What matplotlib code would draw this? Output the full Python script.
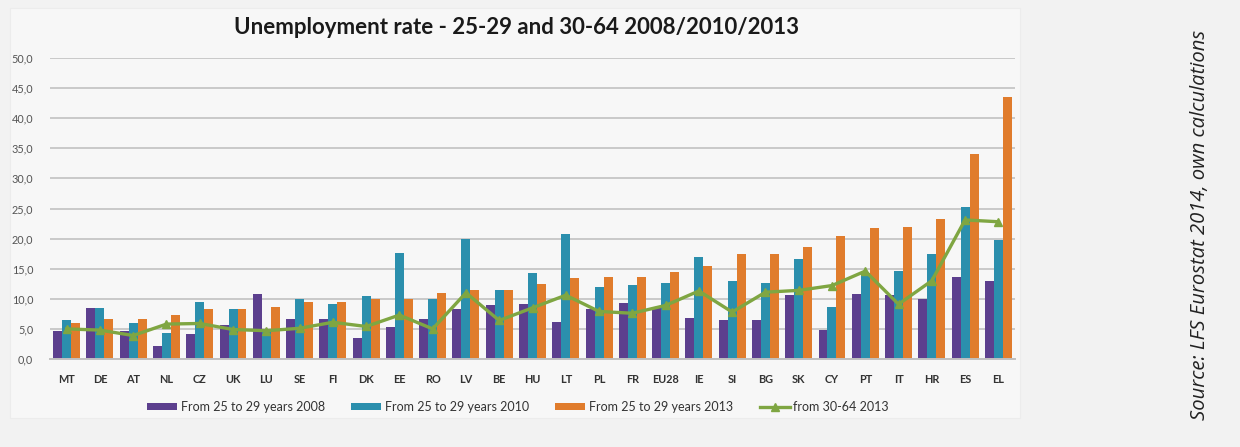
import matplotlib
matplotlib.use("Agg")
import matplotlib.pyplot as plt
import numpy as np
from matplotlib.patches import Rectangle
from matplotlib.ticker import FuncFormatter, MultipleLocator

plt.rcParams["font.family"] = ["Lato", "DejaVu Sans"]

countries = ["MT", "DE", "AT", "NL", "CZ", "UK", "LU", "SE", "FI", "DK", "EE", "RO",
             "LV", "BE", "HU", "LT", "PL", "FR", "EU28", "IE", "SI", "BG", "SK", "CY",
             "PT", "IT", "HR", "ES", "EL"]
y2008 = [4.6, 8.5, 4.7, 2.2, 4.1, 5.7, 10.8, 6.7, 6.7, 3.5, 5.3, 6.7, 8.3, 9.0, 9.2,
         6.1, 8.3, 9.3, 8.5, 6.8, 6.5, 6.4, 10.6, 4.9, 10.8, 10.7, 10.0, 13.6, 13.0]
y2010 = [6.4, 8.5, 6.0, 4.3, 9.4, 8.3, 4.6, 10.0, 9.2, 10.5, 17.6, 9.9, 20.0, 11.5, 14.3,
         20.8, 12.0, 12.3, 12.6, 17.0, 13.0, 12.6, 16.6, 8.7, 14.3, 14.6, 17.5, 25.2, 19.7]
y2013 = [6.0, 6.7, 6.7, 7.3, 8.3, 8.3, 8.6, 9.4, 9.4, 10.0, 10.0, 11.0, 11.5, 11.5, 12.4,
         13.4, 13.6, 13.7, 14.4, 15.4, 17.5, 17.5, 18.6, 20.5, 21.8, 22.0, 23.3, 34.0, 43.5]
older2013 = [5.0, 4.8, 3.9, 5.8, 5.9, 4.9, 4.7, 5.1, 6.1, 5.4, 7.3, 5.0, 11.0, 6.4, 8.5,
             10.6, 7.9, 7.6, 8.9, 11.3, 7.8, 11.1, 11.4, 12.2, 14.6, 9.1, 13.0, 23.1, 22.8]

PURPLE = "#5c3f8e"
TEAL = "#2b8fad"
ORANGE = "#e07c2c"
GREEN = "#7fa642"

fig = plt.figure(figsize=(12.4, 4.47), dpi=100)
fig.patch.set_facecolor("#f2f2f2")

# lighter excel-style chart panel, kept behind everything
fig.add_artist(Rectangle((10 / 1240, 1 - 418 / 447), 1010 / 1240, 410 / 447,
                         transform=fig.transFigure, facecolor="#f7f7f7",
                         edgecolor="#ececec", lw=0.8, zorder=-10))

ax = fig.add_axes([50 / 1240, 1 - 359 / 447, 965 / 1240, 301 / 447])
ax.set_facecolor("none")
ax.set_zorder(1)

x = np.arange(len(countries))
w = 0.27
b1 = ax.bar(x - w, y2008, w, color=PURPLE, label="From 25 to 29 years 2008", zorder=2)
b2 = ax.bar(x, y2010, w, color=TEAL, label="From 25 to 29 years 2010", zorder=2)
b3 = ax.bar(x + w, y2013, w, color=ORANGE, label="From 25 to 29 years 2013", zorder=2)
ln, = ax.plot(x, older2013, color=GREEN, lw=2.4, marker="^", ms=6,
              label="from 30-64 2013", zorder=3)

ax.set_xlim(-0.5, len(countries) - 0.5)
ax.set_ylim(0, 50)
ax.yaxis.set_major_locator(MultipleLocator(5))
ax.yaxis.set_major_formatter(FuncFormatter(lambda v, _: f"{v:.1f}".replace(".", ",")))
ax.grid(axis="y", color="#c9c9c9", lw=1.4, zorder=0)
ax.set_axisbelow(True)
for s in ("top", "right", "left"):
    ax.spines[s].set_visible(False)
ax.spines["bottom"].set_color("#c0c0c0")
ax.spines["bottom"].set_linewidth(1.4)

ax.set_xticks(x)
ax.set_xticklabels(countries)
ax.tick_params(axis="x", length=0, pad=11, labelsize=7.8, labelcolor="#333333")
ax.tick_params(axis="y", length=0, pad=12, labelsize=7.8, labelcolor="#555555")
for lab in ax.get_xticklabels():
    lab.set_fontweight("bold")

fig.text(517 / 1240, 1 - 28 / 447, "Unemployment rate - 25-29 and 30-64 2008/2010/2013",
         ha="center", va="center", fontsize=16, fontweight="bold", color="#1a1a1a")

ax.legend(handles=[b1, b2, b3, ln], loc="center",
          bbox_to_anchor=(518 / 1240, 1 - 407 / 447),
          bbox_transform=fig.transFigure, ncol=4, frameon=False, fontsize=9,
          handlelength=2.4, handleheight=0.4, columnspacing=2.1, handletextpad=0.3,
          labelcolor="#333333")

fig.text(1200 / 1240, 1 - 225 / 447, "Source: LFS Eurostat 2014, own calculations",
         rotation=90, ha="center", va="center", fontsize=14.6, style="italic",
         color="#222222", family=["Open Sans", "DejaVu Sans"])

fig.savefig("out.png", dpi=100, facecolor=fig.get_facecolor())
